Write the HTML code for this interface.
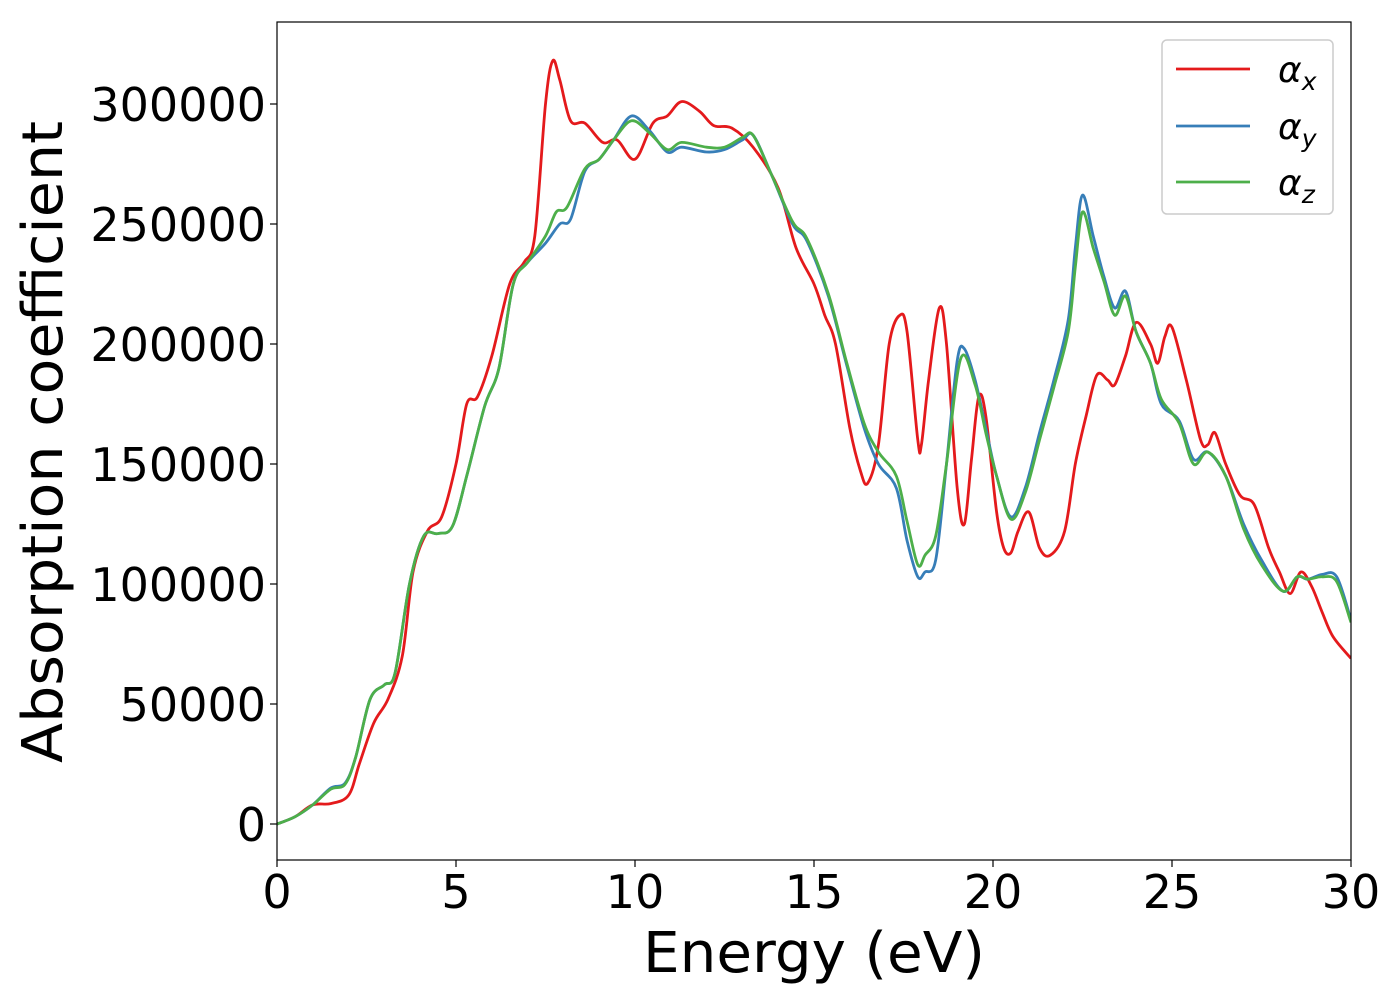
<!DOCTYPE html>
<html><head><meta charset="utf-8">
<style>
html,body{margin:0;padding:0;background:#fff;}
svg text{font-family:"DejaVu Sans","Liberation Sans",sans-serif;fill:#000;}
</style></head>
<body>
<svg id="chart" width="1400" height="1000" viewBox="0 0 1400 1000" xmlns="http://www.w3.org/2000/svg">
<rect x="0" y="0" width="1400" height="1000" fill="#fff"/>
<g id="plot"></g>
<g id="axes"></g>
<text x="814" y="972" font-size="56" text-anchor="middle" textLength="342" lengthAdjust="spacingAndGlyphs">Energy (eV)</text>
<text transform="translate(62,442) rotate(-90)" font-size="56" text-anchor="middle" textLength="642" lengthAdjust="spacingAndGlyphs">Absorption coefficient</text>
<g>
<rect x="1162" y="40" width="171" height="174" rx="5" fill="#fff" stroke="#ccc" stroke-width="1.5"/>
<g><line x1="1176" y1="69" x2="1250" y2="69" stroke="#e41a1c" stroke-width="2.8"/><text x="1278" y="82" font-size="36" font-style="italic">α<tspan font-size="25" dy="8">x</tspan></text></g>
<g><line x1="1176" y1="126" x2="1250" y2="126" stroke="#377eb8" stroke-width="2.8"/><text x="1278" y="139" font-size="36" font-style="italic">α<tspan font-size="25" dy="8">y</tspan></text></g>
<g><line x1="1176" y1="182" x2="1250" y2="182" stroke="#4daf4a" stroke-width="2.8"/><text x="1278" y="195" font-size="36" font-style="italic">α<tspan font-size="25" dy="8">z</tspan></text></g>
</g>
</svg>
<script>
const xTicks = [0,5,10,15,20,25,30];
const yTicks = [0,50000,100000,150000,200000,250000,300000];
const xE = [0,0.5,1,1.5,2,2.3,2.7,3.1,3.5,3.8,4.2,4.6,5.0,5.3,5.6,6,6.5,6.9,7.2,7.5,7.7,7.9,8.2,8.6,9.1,9.5,10,10.5,10.9,11.3,11.8,12.2,12.7,13.3,14.0,14.5,15.0,15.3,15.6,16.0,16.3,16.5,16.8,17.1,17.4,17.6,17.9,18.0,18.2,18.5,18.7,19.0,19.2,19.4,19.6,19.8,20.1,20.3,20.5,20.7,21.0,21.3,21.6,22.0,22.3,22.6,22.9,23.2,23.4,23.7,24.0,24.4,24.6,24.8,25.0,25.4,25.8,26.0,26.2,26.5,26.9,27.3,27.7,28.0,28.3,28.6,28.9,29.2,29.5,30.0];
const xV = [0,3000,8000,8500,12000,25000,42000,52000,70000,105000,122000,128000,150000,175000,178000,195000,225000,234000,245000,300000,318000,310000,293000,292000,284000,285000,277000,292000,295000,301000,297000,291000,290000,282000,265000,240000,225000,212000,200000,165000,147000,142000,158000,200000,212000,205000,160000,158000,185000,215000,200000,140000,125000,152000,178000,170000,130000,115000,113000,122000,130000,115000,112000,122000,150000,170000,187000,185000,183000,195000,209000,200000,192000,203000,207000,185000,160000,158000,163000,150000,137000,133000,115000,105000,96000,105000,99000,88000,78000,69000];
const yE = [0,0.5,1,1.5,1.9,2.2,2.6,3.0,3.3,3.7,4.1,4.5,4.9,5.3,5.8,6.2,6.6,7.0,7.5,7.9,8.2,8.6,9.0,9.4,9.9,10.4,10.9,11.3,12.0,12.5,13.0,13.3,13.8,14.4,14.8,15.4,15.9,16.4,16.8,17.3,17.6,17.9,18.1,18.4,18.7,19.0,19.2,19.5,19.8,20.1,20.5,20.9,21.3,21.7,22.1,22.3,22.5,22.8,23.1,23.4,23.7,24.0,24.4,24.7,25.2,25.6,26.0,26.5,27.0,27.5,28.1,28.5,28.8,29.2,29.6,30];
const yV = [0,3000,8000,15000,17000,28000,52000,58000,63000,100000,120000,121000,124000,145000,174000,190000,225000,234000,242000,250000,252000,272000,277000,285000,295000,289000,280000,282000,280000,281000,285000,287000,271000,250000,243000,220000,192000,165000,150000,140000,118000,103000,105000,110000,150000,193000,198000,185000,165000,145000,128000,140000,163000,185000,210000,240000,262000,245000,228000,215000,222000,205000,192000,175000,168000,152000,155000,145000,125000,110000,97000,103000,102000,104000,103000,85000];
const zE = [0,0.5,1,1.5,1.9,2.2,2.6,3.0,3.3,3.7,4.1,4.5,4.9,5.3,5.8,6.2,6.6,7.0,7.5,7.8,8.1,8.6,9.0,9.4,9.9,10.4,10.9,11.3,12.0,12.5,13.0,13.3,13.8,14.4,14.8,15.4,15.9,16.4,16.8,17.3,17.6,17.9,18.1,18.4,18.7,19.1,19.5,19.8,20.1,20.5,20.9,21.3,21.7,22.1,22.3,22.5,22.8,23.1,23.4,23.7,24.0,24.4,24.7,25.2,25.6,26.0,26.5,27.0,27.5,28.1,28.5,28.8,29.2,29.6,30];
const zV = [0,3000,8000,14500,16500,28000,52000,58000,63000,100000,120000,121000,124000,145000,174000,190000,225000,234000,245000,255000,257000,273000,277000,285000,293000,288000,281000,284000,282000,282000,286000,287000,271000,251000,244000,221000,193000,167000,155000,145000,126000,108000,112000,120000,150000,194000,183000,163000,145000,127000,138000,160000,182000,205000,232000,255000,240000,226000,212000,220000,205000,192000,177000,167000,150000,155000,145000,123000,108000,97000,103000,102000,103000,101000,84000];

const L=277,R=1351,T=22,B=860;
const sx = v => L + (v-0)/(30-0)*(R-L);
const sy = v => 824 - v*0.0024;
const NS='http://www.w3.org/2000/svg';
function mk(tag, attrs, parent){const e=document.createElementNS(NS,tag);for(const k in attrs)e.setAttribute(k,attrs[k]);parent.appendChild(e);return e;}
function pathD(E,V){
  const p=E.map((e,i)=>[sx(e),sy(V[i])]);
  let d='M'+p[0][0].toFixed(1)+','+p[0][1].toFixed(1);
  for(let i=0;i<p.length-1;i++){
    const p0=p[Math.max(0,i-1)],p1=p[i],p2=p[i+1],p3=p[Math.min(p.length-1,i+2)];
    const c1=[p1[0]+(p2[0]-p0[0])/6,p1[1]+(p2[1]-p0[1])/6];
    const c2=[p2[0]-(p3[0]-p1[0])/6,p2[1]-(p3[1]-p1[1])/6];
    d+=' C'+c1[0].toFixed(1)+','+c1[1].toFixed(1)+' '+c2[0].toFixed(1)+','+c2[1].toFixed(1)+' '+p2[0].toFixed(1)+','+p2[1].toFixed(1);
  }
  return d;
}
const plot=document.getElementById('plot');
const axes=document.getElementById('axes');
const clip=mk('clipPath',{id:'clp'},document.getElementById('chart'));
mk('rect',{x:L,y:T,width:R-L,height:B-T},clip);
plot.setAttribute('clip-path','url(#clp)');
const series=[['alpha-x-line',xE,xV,'#e41a1c'],['alpha-y-line',yE,yV,'#377eb8'],['alpha-z-line',zE,zV,'#4daf4a']];
for(const s of series){
  const pth=mk('path',{d:pathD(s[1],s[2]),fill:'none',stroke:s[3],'stroke-width':2.8,'stroke-linejoin':'round'},plot);
  
  
}
const frame=mk('rect',{x:L,y:T,width:R-L,height:B-T,fill:'none',stroke:'#000','stroke-width':1.2},axes);


for(const t of xTicks){
  const x=sx(t);
  const tk=mk('line',{x1:x,y1:B,x2:x,y2:B+7,stroke:'#000','stroke-width':1.2},axes);
  
  
  const tx=mk('text',{x:x,y:908,'font-size':46,'text-anchor':'middle'},axes);
  tx.textContent=t;
  
  
}
for(const t of yTicks){
  const y=sy(t);
  const tk=mk('line',{x1:L-7,y1:y,x2:L,y2:y,stroke:'#000','stroke-width':1.2},axes);
  
  
  const tx=mk('text',{x:266,y:y+17,'font-size':46,'text-anchor':'end'},axes);
  tx.textContent=t;
  
  
}
</script>
</body></html>
